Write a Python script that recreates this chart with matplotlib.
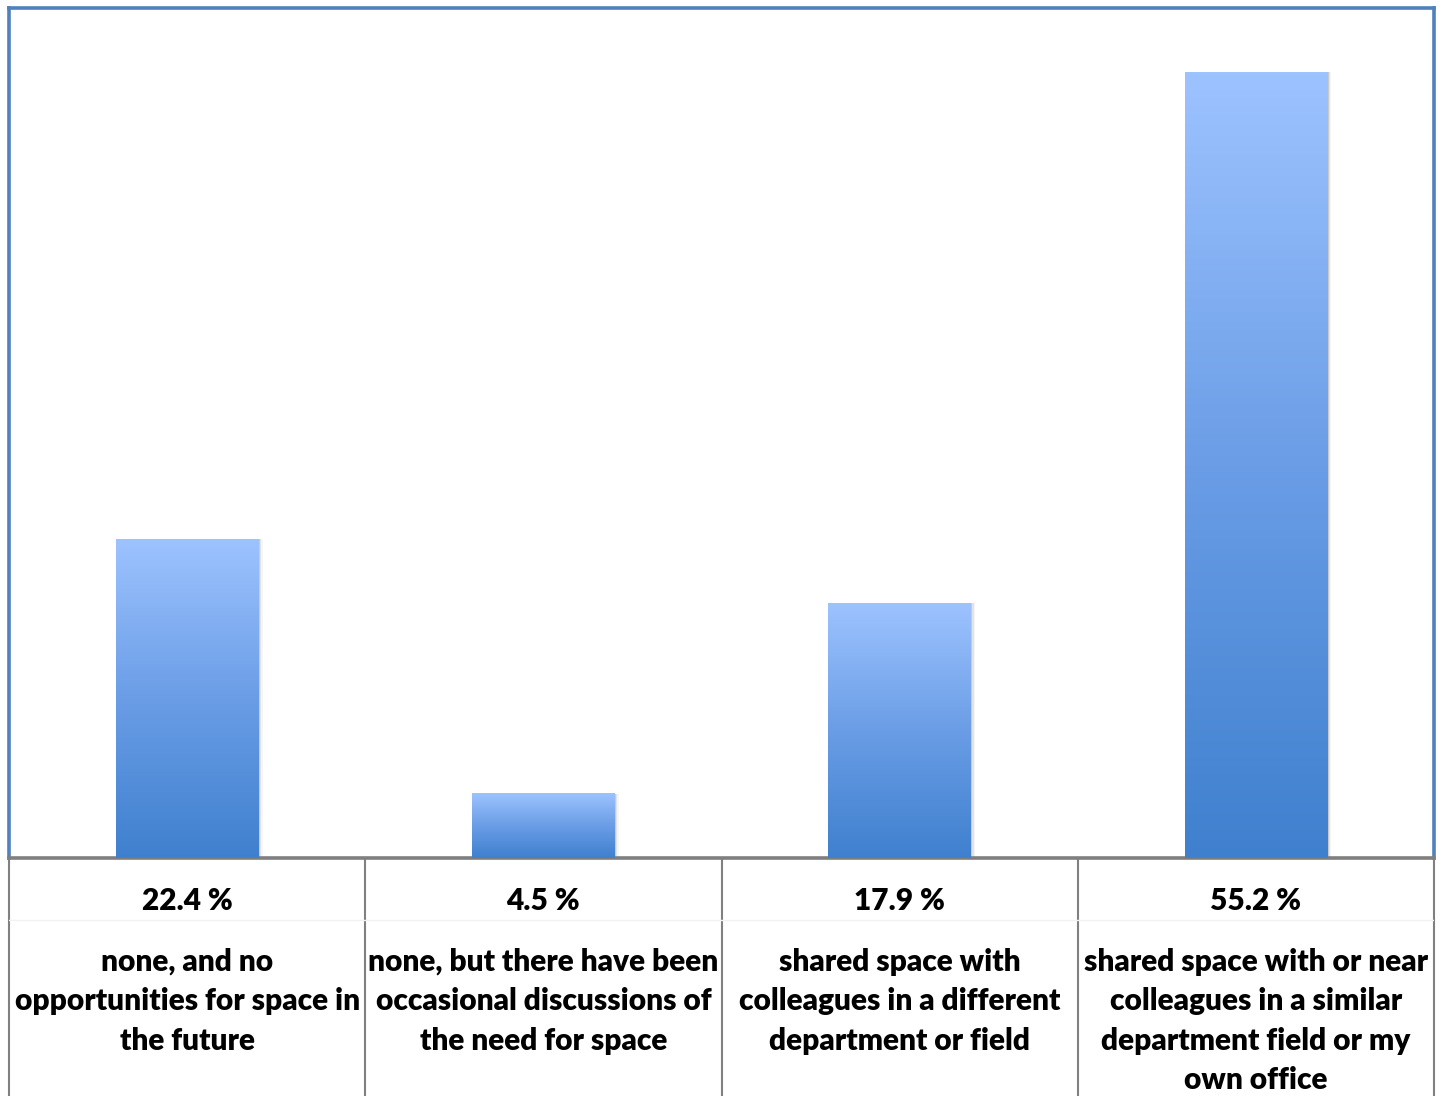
import numpy as np
import matplotlib.pyplot as plt
from matplotlib.colors import LinearSegmentedColormap

# data
categories = ["none, and no\nopportunities for space in\nthe future",
              "none, but there have been\noccasional discussions of\nthe need for space",
              "shared space with\ncolleagues in a different\ndepartment or field",
              "shared space with or near\ncolleagues in a similar\ndepartment field or my\nown office"]
values = [22.4, 4.5, 17.9, 55.2]
value_labels = ["%.1f %%" % v for v in values]

W, H = 1441, 1096
fig = plt.figure(figsize=(W / 100, H / 100), dpi=100)

# main plot area
ax = fig.add_axes([9 / W, (H - 858) / H, (1434 - 9) / W, (858 - 8) / H])
x = np.arange(len(values))
bw = 0.40
ax.set_xlim(-0.5, len(values) - 0.5)
ax.set_ylim(0, 59.7)

cmap = LinearSegmentedColormap.from_list("grad", ["#3F80CE", "#6A9DE6", "#9DC3FF"])
grad = np.linspace(0, 1, 256).reshape(-1, 1)

bars = ax.bar(x, values, width=bw, color="none", zorder=3)
for b in bars:
    x0, w, h = b.get_x(), b.get_width(), b.get_height()
    # soft shadow on the right
    for k, a in enumerate([0.10, 0.07, 0.04]):
        ax.bar(x0 + w / 2 + 0.004 * (k + 1), h, width=w, color="black", alpha=a, zorder=2, lw=0)
    ax.imshow(grad, cmap=cmap, aspect="auto", origin="lower",
              extent=[x0, x0 + w, 0, h], zorder=4)

ax.set_xticks([])
ax.set_yticks([])
for s in ["left", "right", "top"]:
    ax.spines[s].set_color("#4F81BD")
    ax.spines[s].set_linewidth(2.6)
ax.spines["bottom"].set_color("#7F7F7F")
ax.spines["bottom"].set_linewidth(2.6)

# table under the chart
tb = fig.add_axes([9 / W, 0, (1434 - 9) / W, (H - 858) / H])
tb.set_xlim(-0.5, len(values) - 0.5)
tb.set_ylim(H, 858)
tb.axis("off")
for xe in np.arange(-0.5, len(values), 1.0):
    tb.plot([xe, xe], [860, H], color="#808080", lw=1.5, clip_on=False)
tb.plot([-0.5, len(values) - 0.5], [920, 920], color="#F2F2F2", lw=1.0)

for i in range(len(values)):
    tb.text(x[i], 901, value_labels[i], ha="center", va="center",
            fontsize=21.5, fontweight="heavy", family="Lato")
    tb.text(x[i], 948, categories[i], ha="center", va="top",
            fontsize=21.5, fontweight="heavy", family="Lato", linespacing=1.49)

fig.savefig("out.png", dpi=100)
